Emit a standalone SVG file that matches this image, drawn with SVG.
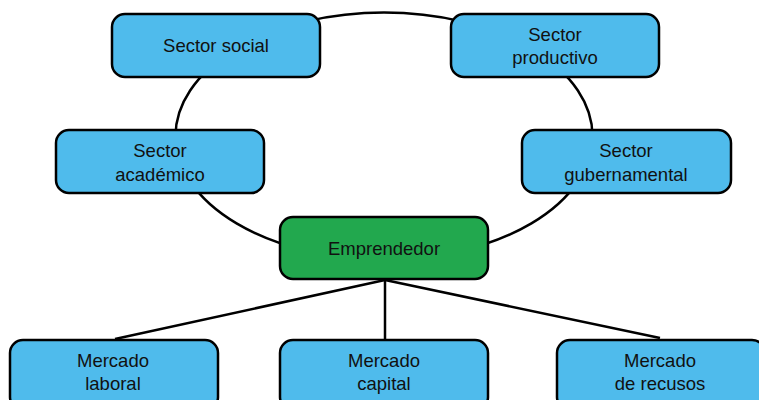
<svg xmlns="http://www.w3.org/2000/svg" width="759" height="400" viewBox="0 0 759 400">
  <style>
    .box { fill: #4fbbec; stroke: #000; stroke-width: 2.5; }
    .main { fill: #22a84e; stroke: #000; stroke-width: 2.5; }
    .lbl { font-family: "Liberation Sans", Arial, sans-serif; font-size: 18.5px; fill: #111; text-anchor: middle; }
    .link { fill: none; stroke: #000; stroke-width: 2.5; }
  </style>
  <rect width="759" height="400" fill="#fff"/>

  <g id="connectors">
    <!-- ring linking the four sectors with the entrepreneur -->
    <ellipse class="link" cx="384" cy="136" rx="208.5" ry="123.5"/>
    <!-- branches to the markets -->
    <line class="link" x1="385" y1="280" x2="115" y2="339"/>
    <line class="link" x1="385" y1="280" x2="385" y2="339"/>
    <line class="link" x1="385" y1="280" x2="660" y2="338"/>
  </g>

  <g id="sector-social">
    <rect class="box" x="112" y="14" width="208" height="63" rx="13"/>
    <text class="lbl" x="216" y="52">Sector social</text>
  </g>

  <g id="sector-productivo">
    <rect class="box" x="451" y="14" width="208" height="63" rx="13"/>
    <text class="lbl" x="555" y="41">Sector</text>
    <text class="lbl" x="555" y="64">productivo</text>
  </g>

  <g id="sector-academico">
    <rect class="box" x="56" y="130" width="208" height="63" rx="13"/>
    <text class="lbl" x="160" y="157">Sector</text>
    <text class="lbl" x="160" y="181">académico</text>
  </g>

  <g id="sector-gubernamental">
    <rect class="box" x="522" y="130" width="209" height="63" rx="13"/>
    <text class="lbl" x="626" y="157">Sector</text>
    <text class="lbl" x="626" y="181">gubernamental</text>
  </g>

  <g id="emprendedor">
    <rect class="main" x="280" y="217" width="208" height="62" rx="13"/>
    <text class="lbl" x="384" y="255">Emprendedor</text>
  </g>

  <g id="mercado-laboral">
    <rect class="box" x="10" y="340" width="208" height="70" rx="13"/>
    <text class="lbl" x="113" y="367">Mercado</text>
    <text class="lbl" x="113" y="390">laboral</text>
  </g>

  <g id="mercado-capital">
    <rect class="box" x="280" y="340" width="208" height="70" rx="13"/>
    <text class="lbl" x="384" y="367">Mercado</text>
    <text class="lbl" x="384" y="390">capital</text>
  </g>

  <g id="mercado-recursos">
    <rect class="box" x="557" y="340" width="208" height="70" rx="13"/>
    <text class="lbl" x="660" y="367">Mercado</text>
    <text class="lbl" x="660" y="390">de recusos</text>
  </g>
</svg>
